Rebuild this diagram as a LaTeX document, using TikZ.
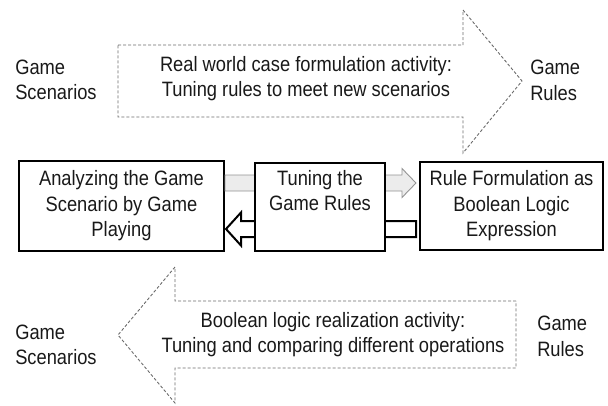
\documentclass[tikz,border=0pt]{standalone}
\usepackage{fontspec}
\setmainfont[FakeStretch=0.88]{Liberation Sans}
\usetikzlibrary{calc}

\newlength{\du}
\setlength{\du}{0.75pt}
\newcommand{\diafont}{\fontsize{15.6}{19.2}\selectfont}

\definecolor{dialinecolor}{rgb}{0.000000, 0.000000, 0.000000}
\definecolor{dashcolor}{rgb}{0.420000, 0.420000, 0.420000}
\definecolor{greyfill}{rgb}{0.925000, 0.925000, 0.925000}
\definecolor{greyline}{rgb}{0.580000, 0.580000, 0.580000}
\definecolor{textcolor}{rgb}{0.100000, 0.100000, 0.100000}

\tikzset{
  flowbox/.style={draw=dialinecolor, fill=white, line width=2\du, align=center, inner sep=0pt, font=\diafont, text=textcolor},
  caption/.style={align=left, inner sep=0pt, font=\diafont, text=textcolor},
  activitytext/.style={align=center, inner sep=0pt, font=\diafont, text=textcolor},
  activity/.style={draw=dashcolor, line width=0.9\du, dash pattern=on 3\du off 2\du, line join=miter},
  forward/.style={draw=greyline, fill=greyfill, line width=0.9\du, line join=miter},
  backward/.style={draw=dialinecolor, fill=white, line width=2\du, line join=miter},
}

\begin{document}
\begin{tikzpicture}
\pgftransformyscale{-1.000000}
\useasboundingbox (0\du,0\du) rectangle (608\du,405\du);
% activity arrows
\draw[activity] (118\du,45\du)--(463\du,45\du)--(463\du,10\du)--(522\du,81\du)--(463\du,153\du)--(463\du,117\du)--(118\du,117\du)--cycle;
\draw[activity] (516\du,301\du)--(175\du,301\du)--(175\du,267\du)--(118\du,335\du)--(175\du,403\du)--(175\du,368\du)--(516\du,368\du)--cycle;
\node[activitytext] (realworld) at (306\du,78.5\du) {Real world case formulation activity:\\Tuning rules to meet new scenarios};
\node[activitytext] (boolean) at (333\du,334.5\du) {Boolean logic realization activity:\\Tuning and comparing different operations};
% setfont left to latex
\node[caption, anchor=west] (scentop) at (15\du,80\du) {Game\\Scenarios};
\node[caption, anchor=west] (rulestop) at (530\du,80.5\du) {Game\\Rules};
\node[caption, anchor=west] (scenbot) at (15\du,345\du) {Game\\Scenarios};
\node[caption, anchor=west] (rulesbot) at (537\du,336.5\du) {Game\\Rules};
% boxes
\node[flowbox, minimum width=205\du, minimum height=90\du] (analyze) at (121.5\du,206\du) {Analyzing the Game\\Scenario by Game\\Playing};
\node[flowbox, minimum width=183\du, minimum height=88\du] (formulate) at (511.5\du,206\du) {Rule Formulation as\\Boolean Logic\\Expression};
\coordinate (gstart) at ($(analyze.east)+(0\du,-23\du)$);
\coordinate (gtip) at ($(formulate.west)+(-3\du,-23\du)$);
\draw[forward] ($(gstart)+(0\du,-8\du)$)--($(gtip)+(-14\du,-8\du)$)--($(gtip)+(-14\du,-14.5\du)$)--(gtip)--($(gtip)+(-14\du,14.5\du)$)--($(gtip)+(-14\du,8\du)$)--($(gstart)+(0\du,8\du)$)--cycle;
\coordinate (wstart) at ($(formulate.west)+(-3\du,23\du)$);
\coordinate (wtip) at ($(analyze.east)+(1\du,23\du)$);
\draw[backward] ($(wstart)+(0\du,-8\du)$)--($(wtip)+(15\du,-8\du)$)--($(wtip)+(15\du,-16.5\du)$)--(wtip)--($(wtip)+(15\du,16.5\du)$)--($(wtip)+(15\du,8\du)$)--($(wstart)+(0\du,8\du)$)--cycle;
\node[flowbox, minimum width=130\du, minimum height=88\du] (tuning) at (320\du,207\du) {Tuning the\\Game Rules\\\strut};
\end{tikzpicture}
\end{document}
